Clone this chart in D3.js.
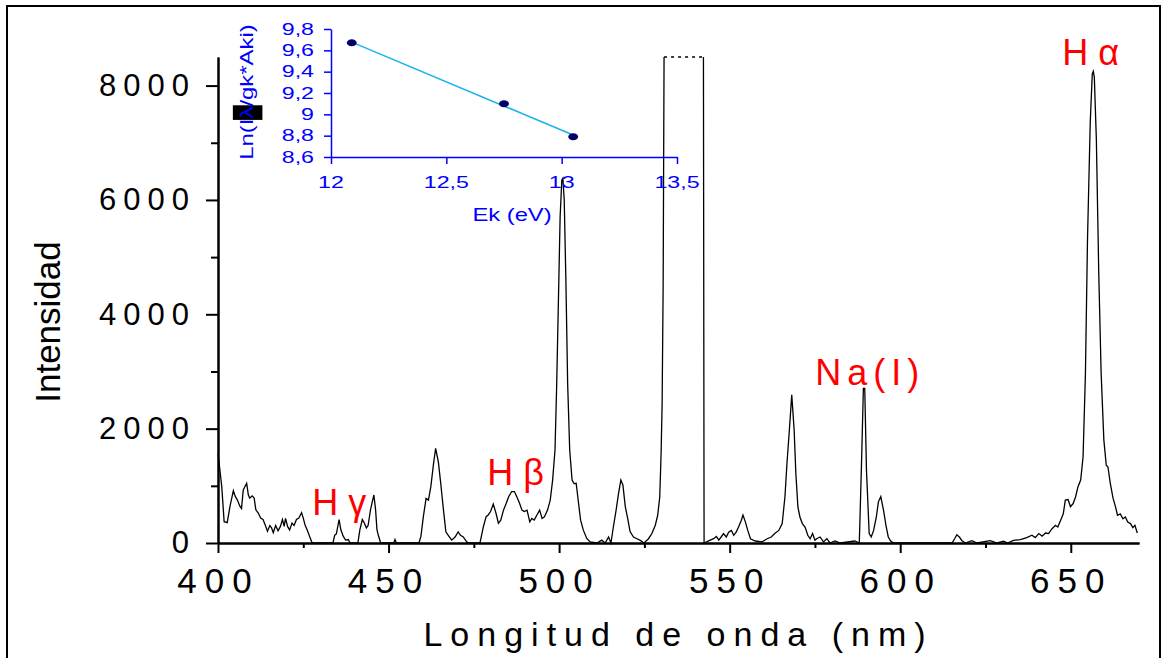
<!DOCTYPE html>
<html>
<head>
<meta charset="utf-8">
<script src="https://cdnjs.cloudflare.com/ajax/libs/d3/7.8.5/d3.min.js"></script>
<style>
  body { margin: 0; background: #fff; }
  svg { display: block; }
  text { font-family: "Liberation Sans", Arial, sans-serif; }
</style>
</head>
<body>
<svg width="1168" height="658"></svg>
<script>
// spectrum: [wavelength nm, intensity]
const spectrum = [
  [400.0,1570],[401.1,985],[401.8,373],[402.7,355],[403.5,635],[404.5,915],[405.1,810],[405.7,750],
  [406.4,645],[406.9,605],[407.4,928],[408.4,1045],[408.9,840],[409.3,785],[410.0,825],[410.6,785],
  [411.1,580],[411.8,525],[412.5,435],[413.2,410],[413.9,305],[414.5,205],[415.2,305],[415.7,265],
  [416.2,178],[416.9,305],[417.6,215],[418.3,290],[418.9,410],[419.4,290],[419.8,430],[420.4,290],
  [421.0,230],[421.7,350],[422.3,305],[423.0,410],[423.7,435],[424.5,530],[425.0,435],[425.5,320],
  [426.3,205],[427.0,90],[427.6,0],[433.7,0],[434.2,135],[434.7,160],[435.5,410],[436.0,235],
  [436.7,120],[437.4,50],[438.2,60],[438.7,0],[441.0,0],[441.6,235],[442.3,410],[442.9,350],
  [443.5,265],[444.0,305],[444.7,580],[445.7,840],[446.2,580],[446.6,235],[447.0,135],[447.7,0],
  [451.5,0],[451.9,60],[452.3,0],[458.9,0],[459.5,120],[460.2,460],[461.0,780],[461.7,750],
  [462.4,990],[463.2,1395],[463.8,1655],[464.6,1420],[465.3,1040],[466.1,575],[466.8,195],[467.5,135],
  [468.5,50],[469.5,105],[470.4,195],[471.1,135],[471.9,105],[472.9,20],[473.5,0],[476.8,0],
  [477.8,285],[478.6,460],[479.2,490],[479.9,550],[480.7,680],[481.5,520],[482.2,345],[482.9,400],
  [483.7,575],[484.5,695],[485.2,810],[486.1,900],[486.9,900],[487.6,810],[488.4,695],[489.1,575],
  [489.8,550],[490.6,575],[491.4,370],[492.0,430],[492.7,400],[493.5,490],[494.3,575],[495.0,430],
  [495.7,460],[496.6,575],[497.4,750],[498.1,1100],[498.8,1630],[499.3,2795],[499.8,4250],[500.3,5710],
  [500.8,6350],[501.1,6380],[501.5,6000],[502.0,4545],[502.5,2795],[503.1,1630],[503.8,1100],[504.4,1040],
  [505.0,1045],[505.7,695],[506.3,400],[507.1,225],[508.1,80],[509.1,20],[511.1,0],[512.5,50],
  [513.5,0],[514.5,105],[515.2,0],[515.9,280],[516.7,570],[517.4,860],[518.1,1100],[518.7,1015],
  [519.4,635],[520.1,430],[520.8,200],[521.8,105],[522.8,75],[523.8,45],[524.9,0],[526.2,75],
  [527.2,165],[528.2,310],[528.9,485],[529.5,805],[529.9,1565],[530.2,2440],[530.5,4500],[530.8,9000],
  [542.3,9000],[542.5,0],[544.3,50],[545.3,75],[546.1,115],[546.8,50],[547.5,105],[548.2,165],
  [549.0,105],[549.7,190],[550.5,220],[551.2,135],[551.9,190],[552.6,280],[553.4,395],[553.9,490],
  [554.6,370],[555.3,220],[556.1,75],[557.5,35],[559.5,20],[561.0,75],[562.2,105],[563.2,165],
  [564.4,220],[565.4,340],[566.2,805],[566.8,1395],[567.5,1975],[568.2,2590],[568.9,1975],[569.4,1220],
  [570.0,630],[570.6,455],[571.3,340],[572.1,280],[572.9,135],[573.6,75],[574.3,165],[575.0,50],
  [575.5,75],[576.5,105],[577.5,20],[578.5,75],[579.4,0],[580.9,35],[582.4,0],[586.7,35],
  [588.0,0],[588.6,1280],[589.2,2705],[589.6,2705],[590.1,1280],[590.9,165],[591.5,105],[592.2,220],
  [593.0,455],[593.6,720],[594.3,810],[595.1,575],[595.9,280],[596.5,105],[597.2,35],[598.0,0],
  [615.2,0],[615.9,70],[616.6,145],[617.4,100],[618.1,40],[619.1,0],[621.0,40],[622.5,0],
  [626.4,40],[628.4,0],[630.3,30],[631.5,0],[633.2,45],[635.2,60],[637.1,95],[638.6,135],
  [639.6,95],[640.6,165],[641.6,120],[642.6,175],[643.5,165],[644.5,250],[645.5,310],[646.2,280],
  [647.0,395],[647.8,510],[648.4,750],[649.2,760],[649.9,635],[650.7,690],[651.4,805],[652.1,980],
  [652.9,1100],[653.6,1505],[654.3,2970],[654.9,5300],[655.7,7345],[656.3,8200],[656.6,8250],[656.9,8150],
  [657.5,7055],[658.2,4725],[658.9,2970],[659.7,1800],[660.4,1360],[660.9,1330],[661.6,1040],[662.4,780],
  [663.1,635],[663.7,485],[664.5,510],[665.3,425],[666.0,455],[666.7,365],[667.5,340],[668.2,270],
  [668.8,310],[669.5,175]
];

const xMajorTicks = [400, 450, 500, 550, 600, 650];
const xMinorTicks = [425, 475, 525, 575, 625];
const yMajorTicks = [0, 2000, 4000, 6000, 8000];
const yMinorTicks = [1000, 3000, 5000, 7000];

// line labels: text, wavelength and intensity where the label starts
const peakNames = ["H \u03b3", "H \u03b2", "Na(I)", "H \u03b1"];
const peakNm = [427.6, 478.9, 575.1, 647.5];
const peakAt = [490, 1015, 2765, 8365];

// inset: Boltzmann plot
const insetEnergy = [12.09, 12.75, 13.05];
const insetLn = [9.67, 9.10, 8.79];
const insetXTicks = [12, 12.5, 13, 13.5];
const insetYTicks = [8.6, 8.8, 9.0, 9.2, 9.4, 9.6, 9.8];

const svg = d3.select("svg");

// frame
svg.append("rect")
  .attr("x", 7).attr("y", 6).attr("width", 1153).attr("height", 700)
  .attr("fill", "none").attr("stroke", "#000").attr("stroke-width", 2);

const x = d3.scaleLinear().domain([400, 670]).range([218, 1139]);
const y = d3.scaleLinear().domain([0, 8500]).range([543, 57]);

svg.append("clipPath").attr("id", "plotclip")
  .append("rect").attr("x", 216).attr("y", 57).attr("width", 926).attr("height", 490);

// spectrum
const line = d3.line().x(d => x(d[0])).y(d => y(d[1]));
svg.append("path")
  .datum(spectrum)
  .attr("clip-path", "url(#plotclip)")
  .attr("fill", "none")
  .attr("stroke", "#000")
  .attr("stroke-width", 1.3)
  .attr("d", line);

// dotted top where the detector saturates
const yMax = y.domain()[1];
let satStart = null, satEnd = null;
for (let i = 1; i < spectrum.length; i++) {
  const a = spectrum[i - 1], b = spectrum[i];
  if (a[1] <= yMax && b[1] > yMax) satStart = a[0] + (b[0] - a[0]) * (yMax - a[1]) / (b[1] - a[1]);
  if (a[1] > yMax && b[1] <= yMax) satEnd = a[0] + (b[0] - a[0]) * (a[1] - yMax) / (a[1] - b[1]);
}
if (satStart !== null && satEnd !== null) {
  svg.append("line")
    .attr("x1", x(satStart)).attr("x2", x(satEnd))
    .attr("y1", y(yMax)).attr("y2", y(yMax))
    .attr("stroke", "#000").attr("stroke-width", 1.5)
    .attr("stroke-dasharray", "3,4");
}

// axes
function styleAxis(g) {
  g.select(".domain").attr("stroke-width", 2);
  g.selectAll(".tick line").attr("stroke-width", 2);
}

const yAxis = svg.append("g")
  .attr("transform", "translate(218,0)")
  .call(d3.axisLeft(y).tickValues(yMajorTicks).tickSize(12).tickSizeOuter(0).tickFormat(d3.format("d")))
  .call(styleAxis);
yAxis.selectAll("text")
  .attr("x", -22)
  .style("font-size", "31px")
  .style("letter-spacing", "7px")
  .attr("fill", "#000");

svg.append("g")
  .attr("transform", "translate(218,0)")
  .call(d3.axisLeft(y).tickValues(yMinorTicks).tickSize(7).tickFormat("").tickSizeOuter(0))
  .call(styleAxis);

const xAxis = svg.append("g")
  .attr("transform", "translate(0,543)")
  .call(d3.axisBottom(x).tickValues(xMajorTicks).tickSize(10).tickSizeOuter(0))
  .call(styleAxis);
xAxis.selectAll("text")
  .attr("y", 50).attr("dy", 0)
  .style("font-size", "35px")
  .style("letter-spacing", "8px")
  .attr("fill", "#000");

svg.append("g")
  .attr("transform", "translate(0,543)")
  .call(d3.axisBottom(x).tickValues(xMinorTicks).tickSize(5).tickFormat("").tickSizeOuter(0))
  .call(styleAxis);

svg.append("text")
  .attr("x", (x.range()[0] + x.range()[1]) / 2)
  .attr("y", 646)
  .attr("text-anchor", "middle")
  .style("font-size", "34px")
  .style("letter-spacing", "8px")
  .text("Longitud de onda (nm)");

svg.append("text")
  .attr("transform", "translate(60,322) rotate(-90)")
  .attr("text-anchor", "middle")
  .style("font-size", "35px")
  .text("Intensidad");

// red line labels
peakNames.forEach((name, i) => {
  svg.append("text")
    .attr("x", x(peakNm[i]))
    .attr("y", y(peakAt[i]))
    .attr("fill", "#ff0000")
    .style("font-size", "36px")
    .style("letter-spacing", i === 2 ? "6px" : "0px")
    .text(name);
});

// ---- inset ----
const ix = d3.scaleLinear().domain([12, 13.5]).range([331, 677]);
const iy = d3.scaleLinear().domain([8.6, 9.8]).range([157, 29]);
const blue = "#0000ff";
const comma = d => (+d.toFixed(1)).toString().replace(".", ",");

const inset = svg.append("g");

inset.append("g")
  .attr("transform", "translate(331,0)")
  .call(d3.axisLeft(iy).tickValues(insetYTicks).tickSize(7).tickSizeOuter(0).tickFormat(""))
  .call(g => g.selectAll("path,line").attr("stroke", blue).attr("stroke-width", 1.5));

inset.append("g")
  .attr("transform", "translate(0,157)")
  .call(d3.axisBottom(ix).tickValues(insetXTicks).tickSize(7).tickSizeOuter(0).tickFormat(""))
  .call(g => g.selectAll("path,line").attr("stroke", blue).attr("stroke-width", 1.5));

insetYTicks.forEach(v => {
  inset.append("text")
    .attr("transform", `translate(314,${iy(v)}) scale(1.45,1)`)
    .attr("text-anchor", "end").attr("dy", "0.36em")
    .attr("fill", blue).style("font-size", "16px")
    .text(comma(v));
});
insetXTicks.forEach(v => {
  inset.append("text")
    .attr("transform", `translate(${ix(v)},188) scale(1.45,1)`)
    .attr("text-anchor", "middle")
    .attr("fill", blue).style("font-size", "16px")
    .text(comma(v));
});
inset.append("text")
  .attr("transform", "translate(512,221) scale(1.25,1)")
  .attr("text-anchor", "middle")
  .attr("fill", blue).style("font-size", "19px")
  .text("Ek (eV)");

// y label with the lambda on a black patch
const ylab = inset.append("g").attr("transform", "translate(253,92) rotate(-90) scale(1.33,1)");
const ylabText = ylab.append("text")
  .attr("text-anchor", "middle")
  .attr("fill", blue).style("font-size", "18px")
  .text("Ln(I\u03bb/gk*Aki)");
const ext = ylabText.node().getExtentOfChar(4);
ylab.insert("rect", "text")
  .attr("x", ext.x - 1).attr("y", ext.y - 4)
  .attr("width", ext.width + 2).attr("height", ext.height + 10)
  .attr("fill", "#000");

// fit line (least squares)
const mx = d3.mean(insetEnergy), my = d3.mean(insetLn);
const slope = d3.sum(insetEnergy, (e, i) => (e - mx) * (insetLn[i] - my)) /
              d3.sum(insetEnergy, e => (e - mx) * (e - mx));
const fit = e => my + slope * (e - mx);
const e0 = d3.min(insetEnergy), e1 = d3.max(insetEnergy);
inset.append("line")
  .attr("x1", ix(e0)).attr("y1", iy(fit(e0)))
  .attr("x2", ix(e1)).attr("y2", iy(fit(e1)))
  .attr("stroke", "#1ab4ea").attr("stroke-width", 1.6);

inset.selectAll("ellipse")
  .data(insetEnergy)
  .enter().append("ellipse")
  .attr("cx", d => ix(d))
  .attr("cy", (d, i) => iy(insetLn[i]))
  .attr("rx", 5).attr("ry", 3.5)
  .attr("fill", "#000066");
</script>
</body>
</html>
